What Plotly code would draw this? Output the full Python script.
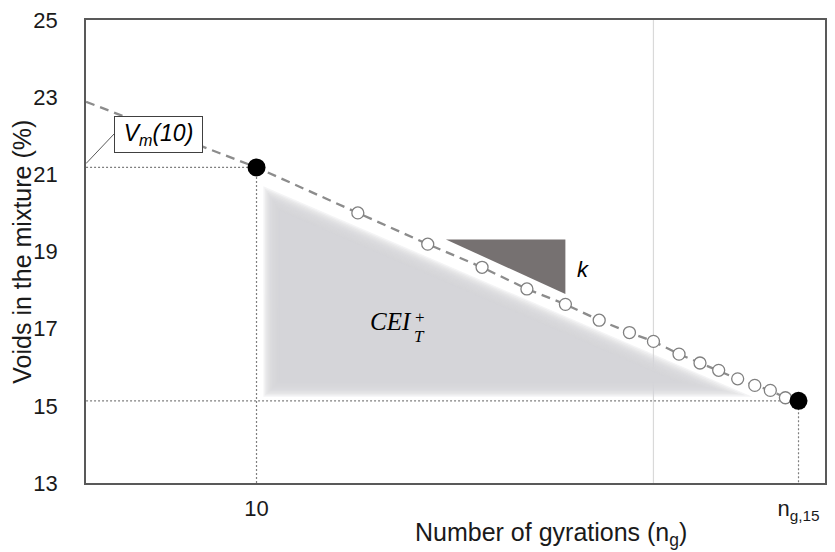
import math
import plotly.graph_objects as go

# ---------------- data ----------------
ng_open = [18, 27, 37, 48, 60, 73, 87, 100, 116, 131, 146, 163, 180, 197, 215]
vm_open = [20.00, 19.19, 18.59, 18.03, 17.63, 17.22, 16.90, 16.67, 16.34, 16.11,
           15.92, 15.70, 15.53, 15.40, 15.21]
ng_key = [10, 232]
vm_key = [21.18, 15.13]
ng_line_start = [3.72]
vm_line_start = [22.88]
x_tick_vals = [10, 232]
x_tick_text = ["10", "n<sub>g,15</sub>"]
y_tick_vals = [13, 15, 17, 19, 21, 23, 25]
grid_ng = [100]
cei_tri_ng = [10.9, 10.9, 142]
cei_tri_vm = [20.38, 15.44, 15.44]
k_tri_ng = [30, 60, 60]
k_tri_vm = [19.31, 19.31, 17.90]
leader_ng = [3.72, 4.38]
leader_vm = [21.28, 22.05]

# ---------------- layout constants ----------------
W, H = 835, 552
ML, MR, MT, MB = 86, 8, 15, 69
PW, PH = W - ML - MR, H - MT - MB
XR = [0.5704, 0.5704 + PW / 398.0]
YR = [13, 25]
SANS = "Liberation Sans, Arial"
SERIF = "Liberation Serif, serif"

def to_px(x, y):
    return (ML + (math.log10(x) - XR[0]) / (XR[1] - XR[0]) * PW,
            MT + (YR[1] - y) / (YR[1] - YR[0]) * PH)

def to_data(px, py):
    lx = XR[0] + (px - ML) / PW * (XR[1] - XR[0])
    return 10 ** lx, YR[1] - (py - MT) / PH * (YR[1] - YR[0])

fig = go.Figure()

# vertical light grid line
fig.add_trace(go.Scatter(x=grid_ng * 2, y=YR, mode="lines",
                         line=dict(color="#d9d9d9", width=1.2), hoverinfo="skip"))

# blurred CEI triangle: nested layers scaled about the incenter
pts = [to_px(x, y) for x, y in zip(cei_tri_ng, cei_tri_vm)]
a = math.dist(pts[1], pts[2]); b = math.dist(pts[0], pts[2]); c = math.dist(pts[0], pts[1])
per = a + b + c
ix = (a * pts[0][0] + b * pts[1][0] + c * pts[2][0]) / per
iy = (a * pts[0][1] + b * pts[1][1] + c * pts[2][1]) / per
area = abs((pts[1][0] - pts[0][0]) * (pts[2][1] - pts[0][1]) -
           (pts[2][0] - pts[0][0]) * (pts[1][1] - pts[0][1])) / 2
r_in = 2 * area / per
n_layers = 12
for i in range(n_layers):
    off = 8 - 16 * i / (n_layers - 1)
    s = (r_in + off) / r_in
    xs, ys = [], []
    for (px, py) in pts + [pts[0]]:
        dx, dy = to_data(ix + (px - ix) * s, iy + (py - iy) * s)
        xs.append(dx); ys.append(dy)
    fig.add_trace(go.Scatter(x=xs, y=ys, mode="lines", fill="toself",
                             fillcolor="rgba(214,212,215,0.26)",
                             line=dict(width=0), hoverinfo="skip"))

# dark slope triangle
fig.add_trace(go.Scatter(x=k_tri_ng + k_tri_ng[:1], y=k_tri_vm + k_tri_vm[:1],
                         mode="lines", fill="toself", fillcolor="#767171",
                         line=dict(width=0), hoverinfo="skip"))

# dotted reference lines
for xv, yv in zip(ng_key, vm_key):
    fig.add_trace(go.Scatter(x=[ng_line_start[0], xv, xv], y=[yv, yv, YR[0]],
                             mode="lines", line=dict(color="#7f7f7f", width=1.2, dash="2px,2px"),
                             hoverinfo="skip"))

# leader line for the Vm(10) label
fig.add_trace(go.Scatter(x=leader_ng, y=leader_vm, mode="lines",
                         line=dict(color="#595959", width=1), hoverinfo="skip"))

# dashed compaction line
line_x = ng_line_start + ng_key[:1] + ng_open + ng_key[1:]
line_y = vm_line_start + vm_key[:1] + vm_open + vm_key[1:]
fig.add_trace(go.Scatter(x=line_x, y=line_y, mode="lines",
                         line=dict(color="#8c8c8c", width=2.3, dash="9px,6px"),
                         hoverinfo="skip"))

# open circles
fig.add_trace(go.Scatter(x=ng_open, y=vm_open, mode="markers",
                         marker=dict(size=12, color="white",
                                     line=dict(color="#808080", width=1.3))))
# key points
fig.add_trace(go.Scatter(x=ng_key, y=vm_key, mode="markers",
                         marker=dict(size=18, color="black")))

ann = []
ann.append(dict(x=math.log10(5.655), y=22.04, xref="x", yref="y",
                xanchor="center", yanchor="middle",
                text="<i>V<sub>m</sub>(10)</i>", showarrow=False,
                font=dict(family=SANS, size=23, color="black"),
                bgcolor="white", bordercolor="#404040", borderwidth=1,
                borderpad=0, width=87, height=35))
ann.append(dict(x=math.log10(66.5), y=18.54, xref="x", yref="y", text="<i>k</i>",
                xanchor="center", yanchor="middle",
                showarrow=False, font=dict(family=SANS, size=22, color="black")))
ann.append(dict(x=math.log10(21.83), y=17.18, xref="x", yref="y", text="<i>CEI</i>",
                xanchor="center", yanchor="middle",
                showarrow=False, font=dict(family=SERIF, size=25, color="black")))
ann.append(dict(x=math.log10(25.8), y=17.30, xref="x", yref="y", text="+",
                xanchor="center", yanchor="middle",
                showarrow=False, font=dict(family=SERIF, size=17, color="black")))
ann.append(dict(x=math.log10(25.8), y=16.80, xref="x", yref="y", text="<i>T</i>",
                xanchor="center", yanchor="middle",
                showarrow=False, font=dict(family=SERIF, size=17, color="black")))
# axis titles
ann.append(dict(x=(552 - ML) / PW, y=-(535 - (MT + PH)) / PH, xref="paper", yref="paper",
                xanchor="center", yanchor="middle",
                text="Number of gyrations (n<sub>g</sub>)", showarrow=False,
                font=dict(family=SANS, size=25, color="#1a1a1a")))
ann.append(dict(x=-(ML - 21) / PW, y=(MT + PH - 249) / PH, xref="paper", yref="paper",
                xanchor="center", yanchor="middle",
                text="Voids in the mixture (%)", showarrow=False, textangle=-90,
                font=dict(family=SANS, size=25, color="#1a1a1a")))

fig.update_layout(
    width=W, height=H, margin=dict(l=ML, r=MR, t=MT, b=MB),
    paper_bgcolor="white", plot_bgcolor="white", showlegend=False,
    annotations=ann,
    xaxis=dict(type="log", range=XR, tickvals=x_tick_vals, ticktext=x_tick_text,
               showgrid=False, zeroline=False, showline=True, mirror=True,
               linecolor="#595959", linewidth=1.5, ticks="", ticklabelstandoff=5,
               tickfont=dict(family=SANS, size=22, color="#1a1a1a")),
    yaxis=dict(range=YR, tickvals=y_tick_vals, showgrid=False, zeroline=False,
               showline=True, mirror=True, linecolor="#595959", linewidth=1.5,
               ticks="", ticklabelstandoff=22,
               tickfont=dict(family=SANS, size=22, color="#1a1a1a")),
)

fig.write_html("out.html")
